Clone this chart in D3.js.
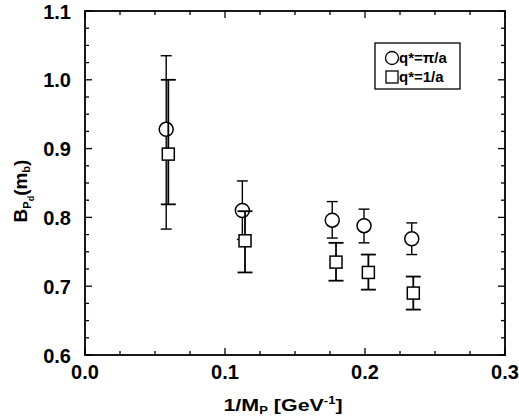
<!DOCTYPE html>
<html>
<head>
<meta charset="utf-8">
<script src="https://cdn.jsdelivr.net/npm/d3@7/dist/d3.min.js"></script>
<style>
  html, body { margin: 0; padding: 0; background: #fff; }
  svg { display: block; font-family: "Liberation Sans", Arial, Helvetica, sans-serif; }
</style>
</head>
<body>
<svg id="chart" width="519" height="420"></svg>
<script>
// Binding energy vs inverse mass, two choices of q*
const xCircle  = [0.0580, 0.1124, 0.1766, 0.1993, 0.2334];
const yCircle  = [0.928, 0.810, 0.796, 0.788, 0.769];
const circleHi = [1.035, 0.853, 0.823, 0.812, 0.792];
const circleLo = [0.783, 0.768, 0.770, 0.763, 0.746];

const xSquare  = [0.0595, 0.1143, 0.1793, 0.2024, 0.2345];
const ySquare  = [0.892, 0.766, 0.735, 0.720, 0.690];
const squareHi = [1.000, 0.809, 0.763, 0.746, 0.714];
const squareLo = [0.819, 0.720, 0.708, 0.695, 0.666];

const xTicks = [0.0, 0.1, 0.2, 0.3];
const xTickLabels = ["0.0", "0.1", "0.2", "0.3"];
const yTicks = [0.6, 0.7, 0.8, 0.9, 1.0, 1.1];
const yTickLabels = ["0.6", "0.7", "0.8", "0.9", "1.0", "1.1"];
const minorStep = 0.025;

const legendLabels = ["q*=\u03C0/a", "q*=1/a"];

const svg = d3.select("#chart");
const plotL = 85, plotR = 505, plotT = 11, plotB = 355;

const x = d3.scaleLinear().domain([0, 0.3]).range([plotL, plotR]);
const y = d3.scaleLinear().domain([0.6, 1.1]).range([plotB, plotT]);

const minorX = d3.range(0, 0.3 + 1e-9, minorStep);
const minorY = d3.range(0.6, 1.1 + 1e-9, minorStep);

// inward ticks on all four sides
const g = svg.append("g").attr("stroke", "#000").attr("fill", "none");
const isMajor = v => Math.abs(v * 10 - Math.round(v * 10)) < 1e-6;
minorX.forEach(v => {
  const len = isMajor(v) ? 7 : 4;
  g.append("line").attr("x1", x(v)).attr("x2", x(v)).attr("y1", plotB).attr("y2", plotB - len).attr("stroke-width", 1.3);
  g.append("line").attr("x1", x(v)).attr("x2", x(v)).attr("y1", plotT).attr("y2", plotT + len).attr("stroke-width", 1.3);
});
minorY.forEach(v => {
  const len = isMajor(v) ? 7 : 4;
  g.append("line").attr("x1", plotL).attr("x2", plotL + len).attr("y1", y(v)).attr("y2", y(v)).attr("stroke-width", 1.3);
  g.append("line").attr("x1", plotR).attr("x2", plotR - len).attr("y1", y(v)).attr("y2", y(v)).attr("stroke-width", 1.3);
});

// frame
g.append("rect").attr("x", plotL).attr("y", plotT).attr("width", plotR - plotL).attr("height", plotB - plotT)
  .attr("stroke-width", 1.8);

// tick labels
const lab = svg.append("g").attr("font-weight", "bold").attr("font-size", 20).attr("fill", "#000");
xTicks.forEach((v, i) => {
  lab.append("text").attr("x", x(v)).attr("y", 379).attr("text-anchor", "middle").text(xTickLabels[i]);
});
yTicks.forEach((v, i) => {
  lab.append("text").attr("x", 71).attr("y", y(v) + 7.5).attr("text-anchor", "end").text(yTickLabels[i]);
});

// axis titles
const xt = svg.append("text").attr("transform", "translate(283,411) scale(1.3,1)").attr("text-anchor", "middle")
  .attr("font-weight", "bold").attr("font-size", 16.5);
xt.append("tspan").text("1/M");
xt.append("tspan").attr("font-size", 10).attr("dy", 3).text("P");
xt.append("tspan").attr("dy", -3).text(" [GeV");
xt.append("tspan").attr("font-size", 10).attr("dy", -7).text("-1");
xt.append("tspan").attr("dy", 7).text("]");

const yt = svg.append("text").attr("transform", "translate(27,191) rotate(-90)").attr("text-anchor", "middle")
  .attr("font-weight", "bold").attr("font-size", 19);
yt.append("tspan").text("B");
yt.append("tspan").attr("font-size", 11).attr("dy", 4).text("P");
yt.append("tspan").attr("font-size", 9).attr("dy", 3).text("d");
yt.append("tspan").attr("dy", -7).text("(m");
yt.append("tspan").attr("font-size", 11).attr("dy", 3).text("b");
yt.append("tspan").attr("dy", -3).text(")");

// error bars
function errorBars(xs, his, los, capW, sw) {
  const eg = svg.append("g").attr("stroke", "#000").attr("stroke-width", sw);
  xs.forEach((xv, i) => {
    const cx = x(xv);
    eg.append("line").attr("x1", cx).attr("x2", cx).attr("y1", y(his[i])).attr("y2", y(los[i]));
    eg.append("line").attr("x1", cx - capW / 2).attr("x2", cx + capW / 2).attr("y1", y(his[i])).attr("y2", y(his[i]));
    eg.append("line").attr("x1", cx - capW / 2).attr("x2", cx + capW / 2).attr("y1", y(los[i])).attr("y2", y(los[i]));
  });
}

errorBars(xCircle, circleHi, circleLo, 11, 1.4);
svg.append("g").selectAll("circle").data(xCircle).join("circle")
  .attr("cx", d => x(d)).attr("cy", (d, i) => y(yCircle[i])).attr("r", 7)
  .attr("fill", "#fff").attr("stroke", "#000").attr("stroke-width", 1.5);

errorBars(xSquare, squareHi, squareLo, 15, 1.8);
svg.append("g").selectAll("rect").data(xSquare).join("rect")
  .attr("x", d => x(d) - 6).attr("y", (d, i) => y(ySquare[i]) - 6).attr("width", 12).attr("height", 12)
  .attr("fill", "#fff").attr("stroke", "#000").attr("stroke-width", 1.5);

// legend
const lg = svg.append("g");
lg.append("rect").attr("x", 375).attr("y", 43).attr("width", 85).attr("height", 46)
  .attr("fill", "#fff").attr("stroke", "#000").attr("stroke-width", 1.3);
lg.append("circle").attr("cx", 392).attr("cy", 58).attr("r", 6.5)
  .attr("fill", "#fff").attr("stroke", "#000").attr("stroke-width", 1.3);
lg.append("rect").attr("x", 386).attr("y", 71).attr("width", 12).attr("height", 12)
  .attr("fill", "#fff").attr("stroke", "#000").attr("stroke-width", 1.3);
lg.selectAll("text").data(legendLabels).join("text")
  .attr("x", 399).attr("y", (d, i) => 63 + i * 19)
  .attr("font-weight", "bold").attr("font-size", 15).text(d => d);
</script>
</body>
</html>
